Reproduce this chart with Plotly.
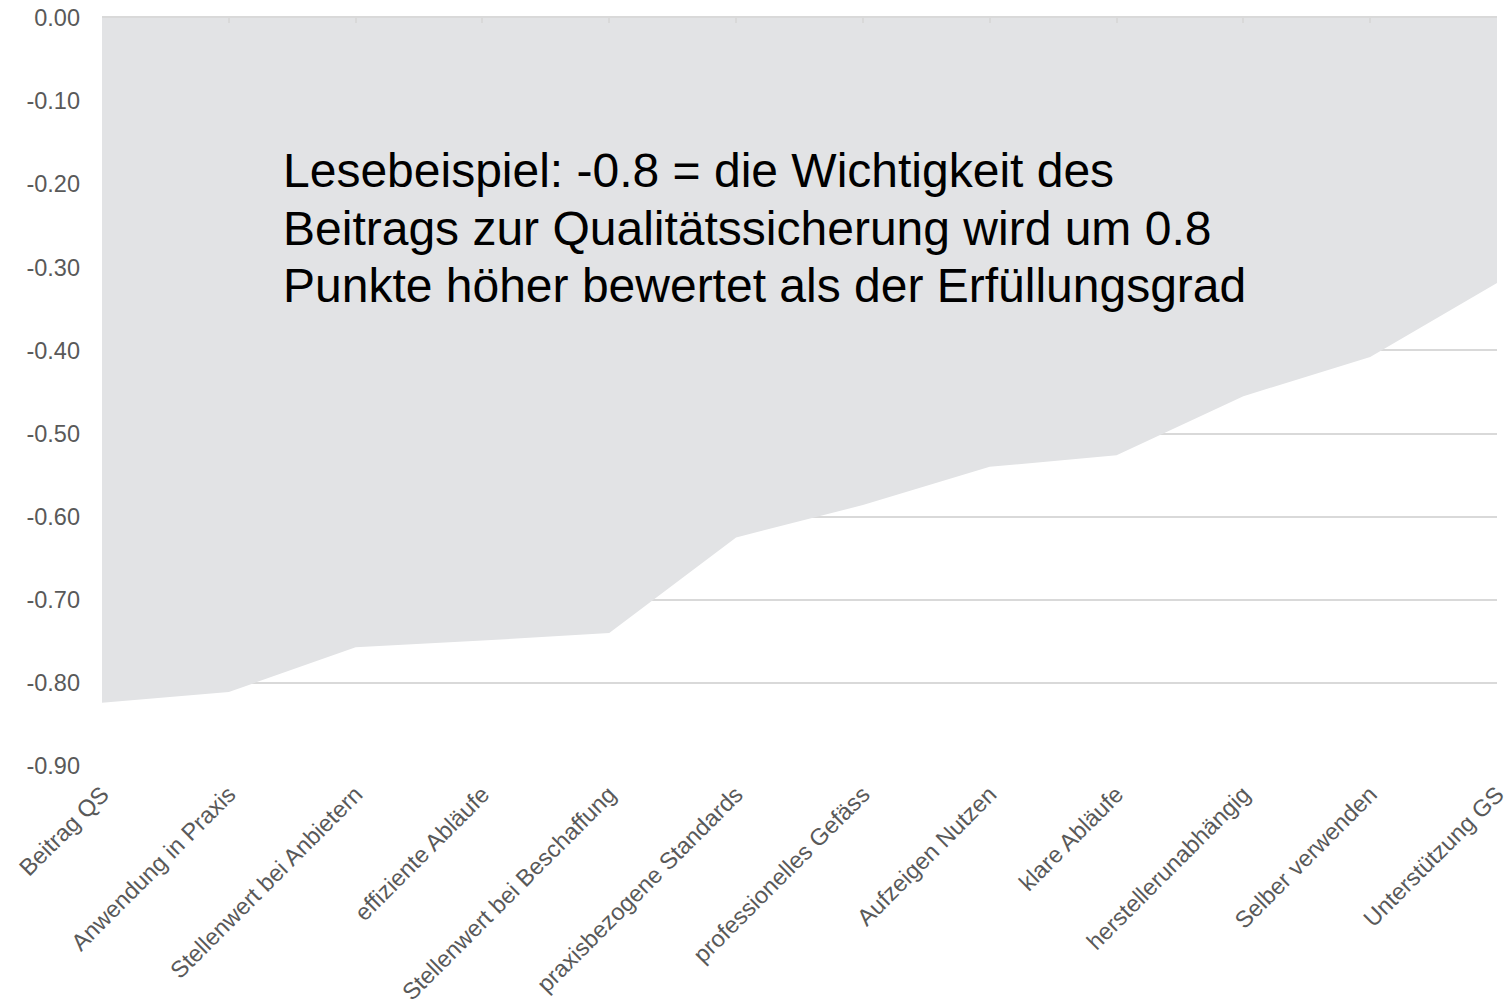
import plotly.graph_objects as go

categories = ["Beitrag QS", "Anwendung in Praxis", "Stellenwert bei Anbietern",
              "effiziente Abläufe", "Stellenwert bei Beschaffung",
              "praxisbezogene Standards", "professionelles Gefäss",
              "Aufzeigen Nutzen", "klare Abläufe", "herstellerunabhängig",
              "Selber verwenden", "Unterstützung GS"]
differences = [-0.824, -0.811, -0.757, -0.749, -0.740, -0.625, -0.586,
               -0.540, -0.526, -0.455, -0.408, -0.319]
y_tickvals = [0.0, -0.1, -0.2, -0.3, -0.4, -0.5, -0.6, -0.7, -0.8, -0.9]
y_ticktext = ["0.00", "-0.10", "-0.20", "-0.30", "-0.40", "-0.50",
              "-0.60", "-0.70", "-0.80", "-0.90"]
note_lines = ["Lesebeispiel: -0.8 = die Wichtigkeit des",
              "Beitrags zur Qualitätssicherung wird um 0.8",
              "Punkte höher bewertet als der Erfüllungsgrad"]
note_y = [0.8343, 0.7561, 0.6805]

FONT = "Liberation Sans, Arial, sans-serif"
GRID = "#d9d9d9"

fig = go.Figure()
fig.add_trace(go.Scatter(
    x=categories, y=differences, mode="lines", fill="tozeroy",
    fillcolor="#e2e3e5", line=dict(width=0, color="#e2e3e5"),
    hoverinfo="x+y", showlegend=False))
# invisible helper trace for the top axis ticks
fig.add_trace(go.Scatter(
    x=categories, y=[0] * len(categories), xaxis="x2", mode="lines",
    line=dict(width=0), hoverinfo="skip", showlegend=False, opacity=0))

fig.update_layout(
    width=1509, height=1005,
    margin=dict(l=102, r=12, t=18, b=239),
    paper_bgcolor="white", plot_bgcolor="white",
    font=dict(family=FONT, size=23.5, color="#595959"),
    xaxis=dict(type="category", range=[0, len(categories) - 1],
               automargin=False,
               showgrid=False, zeroline=False, showline=False,
               tickangle=-45, ticks="", ticklabelstandoff=9,
               tickfont=dict(size=23.5, color="#595959")),
    xaxis2=dict(type="category", overlaying="x", side="top",
                range=[0, len(categories) - 1], matches="x",
                automargin=False,
                showgrid=False, zeroline=False, showline=True,
                linecolor=GRID, linewidth=1.5, ticks="inside", ticklen=5,
                tickcolor=GRID, tickwidth=1.5, showticklabels=False),
    yaxis=dict(range=[-0.9, 0], tickvals=y_tickvals, ticktext=y_ticktext,
               automargin=False,
               showgrid=True, gridcolor=GRID, gridwidth=1.5,
               zeroline=False, showline=False, ticks="",
               ticklabelstandoff=21,
               tickfont=dict(size=23.5, color="#595959")),
    annotations=[dict(
        xref="paper", yref="paper", x=0.1283, y=yy,
        xanchor="left", yanchor="top", align="left", showarrow=False,
        text=line, font=dict(family=FONT, size=48, color="black"))
        for line, yy in zip(note_lines, note_y)],
)

fig.write_html(
    "out.html",
    config={"displayModeBar": False},
    post_script="document.body.style.margin='0';document.body.style.overflow='hidden';")
